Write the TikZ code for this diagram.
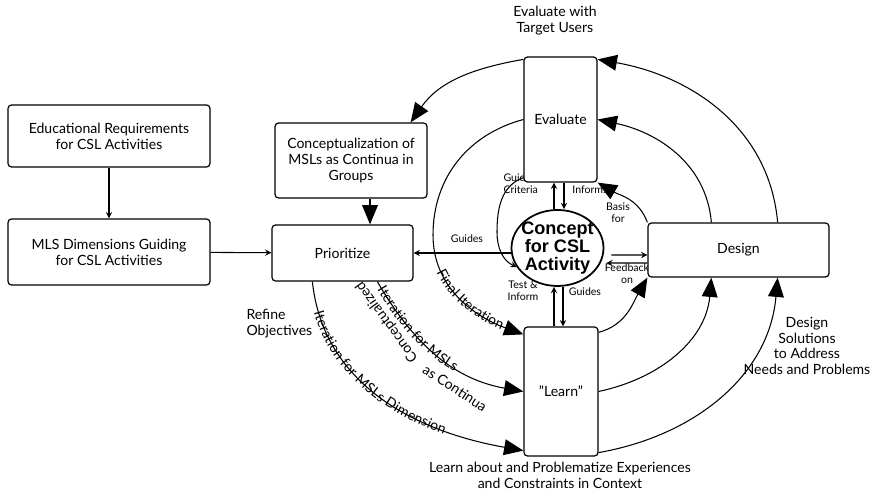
\documentclass[tikz,border=0pt]{standalone}
\usepackage{fontspec}
\setmainfont{Lato}
\newfontfamily\conceptfont{Liberation Sans}
\usepackage{tikz}
\usetikzlibrary{arrows.meta, shapes.geometric, decorations.text}
\newcommand\pathfont{\fontsize{8}{9}\selectfont}
\tikzset{box/.style={draw, rounded corners=2pt, line width=0.7pt, fill=white,
		align=center, font=\fontsize{8}{9}\selectfont, inner sep=1pt},
	side/.style={align=center, font=\fontsize{8}{9}\selectfont, inner sep=0pt},
	lbl/.style={align=center, font=\fontsize{6}{7}\selectfont, inner sep=0pt},
	bigtip/.style={-{Triangle[length=11pt, width=9pt]}},
	cycarc/.style={line width=0.6pt, bigtip},
	pathtext/.style={postaction={decorate},
		decoration={text along path, raise=-2.5pt, text={|\pathfont|#1}}}}

\begin{document}
\begin{tikzpicture}[
			> = stealth, % small arrow heads
			line width=0.6pt, % thin lines
		]
		\useasboundingbox (0,0) rectangle (17.58,9.88);

		% labels partly hidden by the boxes
		\node[lbl, align=left, anchor=west] (guidecrit) at (10.06,6.21) {Guide\\Criteria};
		\node[lbl] (feedback) at (12.54,4.4) {Feedback\\on};

		% boxes
		\node[box, minimum width=4.04cm, minimum height=1.24cm] (edureq) at (2.18,7.16) {Educational Requirements\\for CSL Activities};
		\node[box, minimum width=4.04cm, minimum height=1.32cm] (mlsdim) at (2.18,4.84) {MLS Dimensions Guiding\\for CSL Activities};
		\node[box, minimum width=3.04cm, minimum height=1.5cm] (concep) at (7.02,6.67) {Conceptualization of\\MSLs as Continua in\\Groups};
		\node[box, minimum width=2.82cm, minimum height=1.12cm] (prior) at (6.85,4.82) {Prioritize};
		\node[box, minimum width=1.46cm, minimum height=2.5cm] (eval) at (11.21,7.49) {Evaluate};
		\node[box, minimum width=1.48cm, minimum height=2.58cm] (learn) at (11.22,2.05) {"Learn"};
		\node[box, minimum width=3.62cm, minimum height=1.08cm] (design) at (14.77,4.88) {Design};
		\node[ellipse, draw, line width=1pt, fill=white, minimum width=1.84cm, minimum height=1.52cm,
			inner sep=-3pt, align=center, font=\conceptfont\bfseries\fontsize{10.3}{10.3}\selectfont]
			(ell) at (11.15,4.92) {Concept\\for CSL\\Activity};

		% outer ring
		\draw[cycarc] ([yshift=-0.06cm]eval.north west) to[out=190, in=55] ([xshift=-0.34cm]concep.north east);
		\draw[cycarc] ([xshift=-1.04cm]design.north east) to[out=95, in=-10] ([yshift=-0.06cm]eval.north east);
		\draw[cycarc] ([yshift=0.08cm]learn.south east) to[out=10, in=-95] ([xshift=-1.04cm]design.south east);
		\draw[cycarc, pathtext={Iteration for MSLs  Dimension}, decoration={text align={left indent=17pt}}]
			([xshift=0.82cm]prior.south west) to[out=-84, in=170] ([yshift=0.12cm]learn.south west);

		% middle ring
		\coordinate (midleft) at (8.66,5.18);
		\draw[cycarc, pathtext={Final Iteration}, decoration={text align={left indent=3.9cm}}]
			(eval.west) to[out=195, in=90] (midleft) to[out=270, in=160] ([yshift=-0.16cm]learn.north west);
		\draw[cycarc] ([xshift=1.28cm]design.north west) to[out=95, in=-12] (eval.east);
		\draw[cycarc] (learn.east) to[out=12, in=-95] ([xshift=1.28cm]design.south west);
		\draw[cycarc, pathtext={Iteration for MSLs}, decoration={text align={left indent=4pt}}]
			([xshift=2.12cm]prior.south west) to[out=-60, in=170] (learn.west);

		% inner ring
		\coordinate (innerleft) at (9.94,5.24);
		\draw[cycarc] (design.north west) to[out=110, in=-30] (eval.south east);
		\draw[cycarc] ([yshift=-0.12cm]learn.north east) to[out=15, in=240] (design.south west);
		\draw[->] ([yshift=0.1cm]eval.south west) to[out=200, in=90] (innerleft) to[out=270, in=155] (ell.205);

		% straight arrows
		\draw[->] (edureq) -- (mlsdim);
		\draw[->] (mlsdim) -- (prior);
		\draw[bigtip] ([xshift=0.38cm]concep.south) -- ([xshift=0.38cm]concep.south |- prior.north);
		\draw[->] ([xshift=-0.07cm]ell.north) -- ([xshift=-0.07cm]ell.north |- eval.south);
		\draw[->] ([xshift=0.13cm]ell.north |- eval.south) -- ([xshift=0.13cm]ell.north);
		\draw[->] ([xshift=-0.07cm]ell.south |- learn.north) -- ([xshift=-0.07cm]ell.south);
		\draw[->] ([xshift=0.11cm]ell.south) -- ([xshift=0.11cm]ell.south |- learn.north);
		\draw[->] ([shift={(0.14,-0.14)}]ell.east) -- ([yshift=-0.1cm]design.west);
		\draw[->] ([yshift=-0.26cm]design.west) -- ([shift={(0.04,-0.3)}]ell.east);
		\draw[->] (ell.west |- prior.east) -- (prior.east);

		% labels
		\node[side] (evalwith) at (11.1,9.46) {Evaluate with\\Target Users};
		\node[side, align=left, anchor=west] (refine) at (4.92,3.4) {Refine\\Objectives};
		\node[side] (designsol) at (16.14,2.96) {Design\\Solutions\\to Address\\Needs and Problems};
		\node[side] (learnabout) at (11.2,0.38) {Learn about and Problematize Experiences\\and Constraints in Context};
		\node[side, rotate=-33] (ascont) at (9.1,2.12) {as Continua};
		\node[side, rotate=126] (concd) at (7.74,3.44) {Conceptualized};
		\node[lbl] (informs) at (11.8,6.08) {Informs};
		\node[lbl] (basis) at (12.36,5.62) {Basis\\for};
		\node[lbl] (guidesl) at (9.34,5.1) {Guides};
		\node[lbl] (testinf) at (10.46,4.06) {Test \&\\Inform};
		\node[lbl] (guidesr) at (11.7,4.04) {Guides};
\end{tikzpicture}
\end{document}
